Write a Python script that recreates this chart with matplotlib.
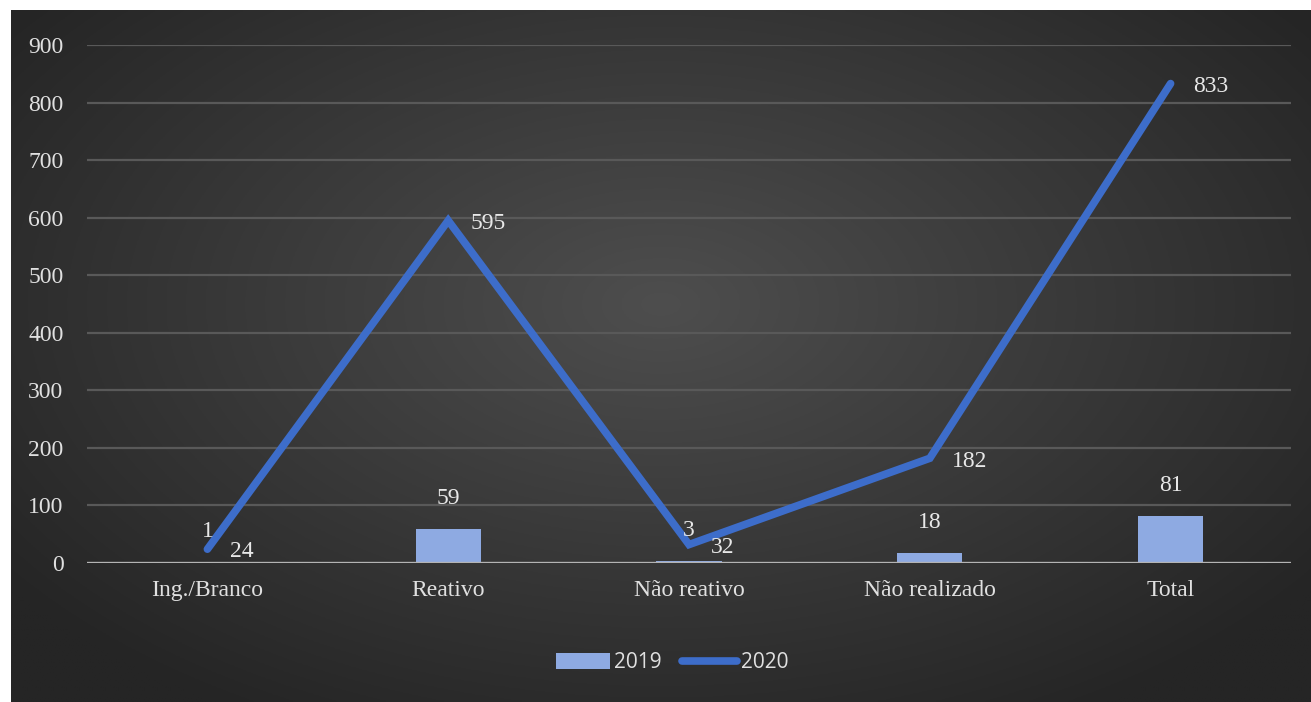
import numpy as np
import matplotlib.pyplot as plt

categorias = ["Ing./Branco", "Reativo", "Não reativo", "Não realizado", "Total"]
casos_2019 = [1, 59, 3, 18, 81]
casos_2020 = [24, 595, 32, 182, 833]
y_ticks = [0, 100, 200, 300, 400, 500, 600, 700, 800, 900]

fig = plt.figure(figsize=(13.11, 7.02), dpi=100)
fig.patch.set_facecolor("white")

# fundo escuro com gradiente radial
bg = fig.add_axes([11 / 1311, 0, 1 - 11 / 1311, 692 / 702])
yy, xx = np.mgrid[-1:1:300j, -1:1:600j]
r = np.sqrt((xx / 1.0) ** 2 + ((yy + 0.15) / 1.1) ** 2)
r = np.clip(r / 1.25, 0, 1)
c0 = np.array([0x4e, 0x4e, 0x4e]) / 255
c1 = np.array([0x25, 0x25, 0x25]) / 255
img = c0[None, None, :] * (1 - r[..., None]) + c1[None, None, :] * r[..., None]
bg.imshow(img, aspect="auto", extent=[0, 1, 0, 1])
bg.axis("off")

ax = fig.add_axes([87 / 1311, 139 / 702, 1204 / 1311, 518 / 702])
ax.set_facecolor("none")
x = np.arange(len(categorias))

barras = ax.bar(x, casos_2019, width=0.27, color="#8eaae2", zorder=2, label="2019")
linha, = ax.plot(x, casos_2020, color="#3d6dca", lw=5.5, solid_capstyle="round",
                 solid_joinstyle="miter", zorder=3, label="2020")

serif = "Liberation Serif"
for xi, v in zip(x, casos_2019):
    ax.annotate(str(v), (xi, v), xytext=(0, 22), textcoords="offset points",
                ha="center", va="center", color="#e8e8e8", fontsize=17,
                family=serif)
for xi, v in zip(x, casos_2020):
    ax.annotate(str(v), (xi, v), xytext=(16, -2), textcoords="offset points",
                ha="left", va="center", color="#e8e8e8", fontsize=17,
                family=serif)

ax.set_xlim(-0.5, len(categorias) - 0.5)
ax.set_ylim(0, 900)
ax.set_yticks(y_ticks)
ax.set_xticks(x)
ax.set_xticklabels(categorias, family=serif, fontsize=17, color="#e0e0e0")
for lbl in ax.get_yticklabels():
    lbl.set_family(serif)
    lbl.set_fontsize(17)
    lbl.set_color("#e0e0e0")
ax.tick_params(length=0)
ax.tick_params(axis="y", pad=17)
ax.tick_params(axis="x", pad=12)

for t in y_ticks[1:]:
    ax.axhline(t, color="#595959", lw=1.6, zorder=1)
ax.axhline(0, color="#b4b4b4", lw=2.4, zorder=4)
for s in ax.spines.values():
    s.set_visible(False)

leg = fig.legend([barras, linha], ["2019", "2020"], loc="center",
                 bbox_to_anchor=(672 / 1311, 39 / 702), ncol=2,
                 frameon=False, handlelength=2.6, handleheight=0.8,
                 columnspacing=1.0, handletextpad=0.2,
                 prop={"family": "Open Sans", "size": 15})
for t in leg.get_texts():
    t.set_color("#e0e0e0")

fig.savefig("out.png", dpi=100)
